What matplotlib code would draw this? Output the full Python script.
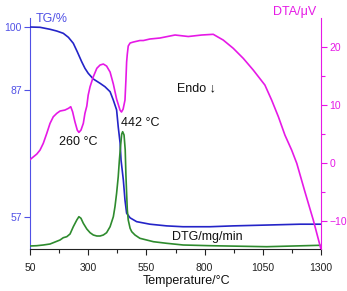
import numpy as np
import matplotlib
matplotlib.use("Agg")
import matplotlib.pyplot as plt
from matplotlib.ticker import FixedLocator

plt.rcParams['font.family'] = ['Liberation Sans', 'DejaVu Sans']

# ---- data ----
tg_T = [50, 93, 136, 165, 193, 215, 236, 253, 272, 286, 300, 322, 351, 372, 394, 408, 422,
        429, 437, 441, 451, 458, 465, 480, 508, 565, 637, 707, 823, 922, 1068, 1210, 1300]
tg_val = [100.0, 99.94, 99.53, 99.17, 98.70, 97.87, 96.64, 94.90, 92.84, 91.48, 90.45, 89.27,
          88.38, 87.68, 86.60, 84.6, 82.3, 78.3, 74.5, 70.5, 65.7, 61.0, 57.9, 56.8, 55.9,
          55.3, 54.9, 54.7, 54.7, 54.9, 55.1, 55.3, 55.3]

dta_T = [50, 79, 93, 107, 122, 136, 150, 165, 179, 200, 215, 225, 233, 243, 253, 260, 269,
         279, 286, 294, 300, 308, 322, 337, 351, 365, 379, 394, 408, 422, 437, 443, 450, 458,
         462, 465, 468, 472, 480, 494, 522, 537, 565, 608, 673, 730, 788, 837, 880, 923, 966,
         1009, 1059, 1088, 1117, 1145, 1174, 1196, 1231, 1267, 1299]
dta_val = [0.6, 1.55, 2.24, 3.40, 5.12, 6.84, 7.98, 8.57, 8.97, 9.14, 9.43, 9.71, 8.84, 7.12,
           5.69, 5.29, 5.69, 6.84, 8.57, 9.83, 11.72, 13.16, 14.88, 16.33, 16.9, 17.07, 16.72,
           15.69, 13.62, 11.03, 9.1, 8.8, 9.3, 10.86, 14.31, 17.4, 18.8, 20.17, 20.69, 20.86,
           21.12, 21.12, 21.38, 21.55, 22.07, 21.81, 22.07, 22.19, 21.2, 19.78, 18.05, 16.03,
           13.45, 10.86, 7.98, 4.83, 2.24, -0.05, -4.95, -9.83, -14.7]

dtg_T = [50, 79, 107, 136, 150, 165, 179, 193, 208, 222, 236, 251, 260, 269, 279, 294, 308,
         322, 337, 351, 365, 379, 394, 408, 415, 422, 429, 434, 439, 444, 448, 454, 459, 462,
         465, 468, 472, 480, 487, 501, 522, 551, 580, 637, 708, 823, 1067, 1296]
dtg_val = [0.030, 0.033, 0.040, 0.050, 0.063, 0.077, 0.090, 0.113, 0.123, 0.150, 0.223, 0.290,
           0.323, 0.307, 0.257, 0.200, 0.163, 0.140, 0.130, 0.130, 0.140, 0.163, 0.223, 0.323,
           0.423, 0.557, 0.723, 0.890, 1.030, 1.150, 1.173, 1.140, 0.990, 0.740, 0.560, 0.390,
           0.290, 0.207, 0.173, 0.140, 0.107, 0.090, 0.073, 0.057, 0.040, 0.033, 0.023, 0.037]

x_ticks = [50, 300, 550, 800, 1050, 1300]
tg_ticks = [57, 87, 100]
dta_ticks = [-10, 0, 10, 20]

# ---- styling ----
W, H = 347, 291
BLUE_LINE = '#2424c8'
BLUE_AX = '#5050e6'
MAG = '#e619e6'
GREEN = '#2e8b2e'
TICK_FS = 7.5
LAB_FS = 9

fig = plt.figure(figsize=(W / 100, H / 100), dpi=100)
ax = fig.add_axes([30 / W, 42 / H, 291 / W, 231 / H])

k = 0.8736
def fwd(v):
    v = np.asarray(v, dtype=float)
    return np.where(v >= 87, v, 87 + (v - 87) * k)
def inv(u):
    u = np.asarray(u, dtype=float)
    return np.where(u >= 87, u, 87 + (u - 87) / k)

ax.set_yscale('function', functions=(fwd, inv))
ax.set_xlim(50, 1300)
ax.set_ylim(49.44, 101.86)

ax3 = ax.twinx()
ax3.set_ylim(0, 2.31)
ax3.axis('off')
ax3.plot(dtg_T, dtg_val, color=GREEN, lw=1.2)

ax.plot(tg_T, tg_val, color=BLUE_LINE, lw=1.2, zorder=3)

ax2 = ax.twinx()
ax2.set_ylim(-14.8, 25)
ax2.plot(dta_T, dta_val, color=MAG, lw=1.2)

# axes decoration
ax.set_xticks(x_ticks)
ax.xaxis.set_minor_locator(FixedLocator([175, 425, 675, 925, 1175]))
ax.set_yticks(tg_ticks)
ax.yaxis.set_minor_locator(FixedLocator([]))
ax.tick_params(axis='x', labelsize=TICK_FS, length=4, width=0.8, colors='#222222', pad=6)
ax.tick_params(axis='x', which='minor', length=3, width=0.8, colors='#222222')
ax.tick_params(axis='y', labelsize=TICK_FS, length=4, width=0.8, colors=BLUE_AX, pad=2)
for s in ['top', 'right']:
    ax.spines[s].set_visible(False)
ax.spines['left'].set_color(BLUE_AX)
ax.spines['bottom'].set_color('#222222')

ax2.set_yticks(dta_ticks)
ax2.yaxis.set_minor_locator(FixedLocator([-5, 5, 15]))
ax2.tick_params(axis='y', labelsize=TICK_FS, length=4, width=0.8, colors=MAG, pad=2)
ax2.tick_params(axis='y', which='minor', length=3, width=0.8, colors=MAG)
for s in ['top', 'left', 'bottom']:
    ax2.spines[s].set_visible(False)
ax2.spines['right'].set_color(MAG)

def ftext(px, py, s, color='#111111', size=LAB_FS):
    fig.text(px / W, 1 - py / H, s, color=color, fontsize=size, ha='center', va='center')

ftext(51.5, 19, 'TG/%', BLUE_AX)
ftext(294.5, 12, 'DTA/μV', MAG)
ftext(196.5, 88, 'Endo ↓')
ftext(78.5, 142, '260 °C')
ftext(140, 123, '442 °C')
ftext(207.5, 237, 'DTG/mg/min')
ftext(186.5, 281, 'Temperature/°C')

fig.savefig('out.png', dpi=100)
